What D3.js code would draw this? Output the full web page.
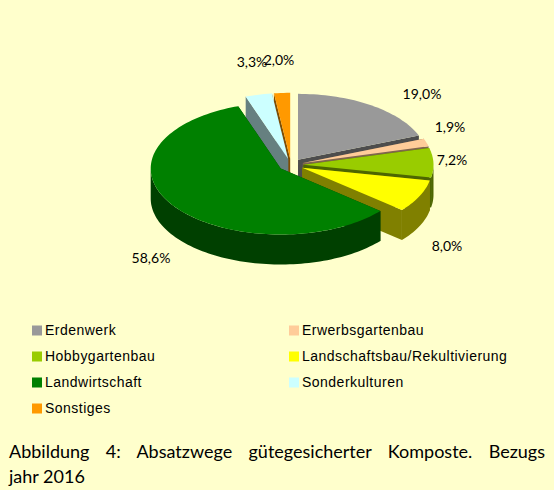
<!DOCTYPE html>
<html>
<head>
<meta charset="utf-8">
<script src="https://cdn.jsdelivr.net/npm/d3@7"></script>
<style>
  html, body { margin: 0; padding: 0; background: #ffffcc; }
  svg { display: block; }
</style>
</head>
<body>
<div id="chart"></div>
<script>
// Chart data
const categories = ["Erdenwerk", "Erwerbsgartenbau", "Hobbygartenbau", "Landschaftsbau/Rekultivierung", "Landwirtschaft", "Sonderkulturen", "Sonstiges"];
const shares = [19.0, 1.9, 7.2, 8.0, 58.6, 3.3, 2.0];
const shareLabels = ["19,0%", "1,9%", "7,2%", "8,0%", "58,6%", "3,3%", "2,0%"];
const colors = ["#999999", "#ffcc99", "#99cc00", "#ffff00", "#008000", "#ccffff", "#ff9900"];
const captionLines = ["Abbildung 4: Absatzwege gütegesicherter Komposte. Bezugs", "jahr 2016"];

const width = 554;
const height = 490;

// Pie layout (tilted ellipse, pulled out slices)
const cx = 291, cy = 165;
const rx = 130, ry = 66;
const depth = 30;
const explode = 0.094;

const svg = d3.select("#chart")
    .append("svg")
    .attr("width", width)
    .attr("height", height);

svg.append("rect")
    .attr("width", width)
    .attr("height", height)
    .attr("fill", "#ffffcc");

const pie = d3.pie().sort(null).value(d => d);
const arcs = pie(shares).map((d, i) => {
    const mid = (d.startAngle + d.endAngle) / 2;
    return {
        i: i,
        a0: d.startAngle,
        a1: d.endAngle,
        ox: cx + Math.sin(mid) * explode * 133,
        oy: cy - Math.cos(mid) * explode * 66
    };
});

// Point on the rim of a slice
function rim(s, a, dy) {
    return [s.ox + rx * Math.sin(a), s.oy - ry * Math.cos(a) + (dy || 0)];
}

function rimPoints(s, a0, a1, dy) {
    const n = Math.max(2, Math.ceil((a1 - a0) / 0.03));
    return d3.range(n + 1).map(k => rim(s, a0 + (a1 - a0) * k / n, dy));
}

const line = d3.line();

// Back to front, orange goes before the light blue so its wall only shows in the gap
const order = [0, 6, 5, 1, 2, 3, 4];

order.forEach(i => {
    const s = arcs[i];
    const side = d3.color(colors[i]).copy();
    side.r *= 0.5; side.g *= 0.5; side.b *= 0.5;
    const g = svg.append("g");

    // cut wall on the start side
    g.append("path")
        .attr("d", line([[s.ox, s.oy], rim(s, s.a0), rim(s, s.a0, depth), [s.ox, s.oy + depth]]) + "Z")
        .attr("fill", side);
    // cut wall on the end side
    g.append("path")
        .attr("d", line([[s.ox, s.oy], rim(s, s.a1), rim(s, s.a1, depth), [s.ox, s.oy + depth]]) + "Z")
        .attr("fill", side);

    // outer wall, only the part facing the viewer
    const f0 = Math.max(s.a0, Math.PI / 2);
    const f1 = Math.min(s.a1, Math.PI * 1.5);
    if (f1 > f0) {
        const pts = rimPoints(s, f0, f1, 0).concat(rimPoints(s, f0, f1, depth).reverse());
        g.append("path")
            .attr("d", line(pts) + "Z")
            .attr("fill", side);
    }

    // top face
    const pts = [[s.ox, s.oy]].concat(rimPoints(s, s.a0, s.a1, 0));
    g.append("path")
        .attr("d", line(pts) + "Z")
        .attr("fill", colors[i]);
});

// Percent labels
const labelPos = [[422, 94], [450, 127], [452, 160], [447, 246], [151, 258], [252, 62], [279, 60]];
svg.selectAll(".pct")
    .data(shareLabels)
    .enter()
    .append("text")
    .attr("class", "pct")
    .attr("x", (d, i) => labelPos[i][0])
    .attr("y", (d, i) => labelPos[i][1])
    .attr("dy", "0.35em")
    .attr("text-anchor", "middle")
    .attr("font-family", "Lato, sans-serif")
    .attr("font-size", 14)
    .attr("fill", "#000")
    .text(d => d);

// Legend, two columns
const legendX = d3.scalePoint().domain([0, 1]).range([32, 289]);
const legendY = d3.scalePoint().domain([0, 1, 2, 3]).range([330.5, 408.5]);
const legend = svg.selectAll(".legend")
    .data(categories)
    .enter()
    .append("g")
    .attr("class", "legend")
    .attr("transform", (d, i) => `translate(${legendX(i % 2)}, ${legendY(Math.floor(i / 2))})`);

legend.append("rect")
    .attr("y", -5)
    .attr("width", 10)
    .attr("height", 10)
    .attr("fill", (d, i) => colors[i]);

legend.append("text")
    .attr("x", 13)
    .attr("dy", "0.35em")
    .attr("font-family", "'Liberation Sans', Arial, sans-serif")
    .attr("font-size", 14)
    .attr("letter-spacing", 0.48)
    .attr("fill", "#000")
    .text(d => d);

// Caption, first line justified to the text width
const caption = svg.selectAll(".caption")
    .data(captionLines)
    .enter()
    .append("text")
    .attr("class", "caption")
    .attr("x", 9)
    .attr("y", (d, i) => 458 + i * 25)
    .attr("font-family", "Lato, sans-serif")
    .attr("font-size", 18)
    .attr("fill", "#000")
    .text(d => d);

const first = caption.filter((d, i) => i === 0);
const gaps = captionLines[0].split(" ").length - 1;
first.attr("word-spacing", (536 - first.node().getComputedTextLength()) / gaps);
</script>
</body>
</html>
